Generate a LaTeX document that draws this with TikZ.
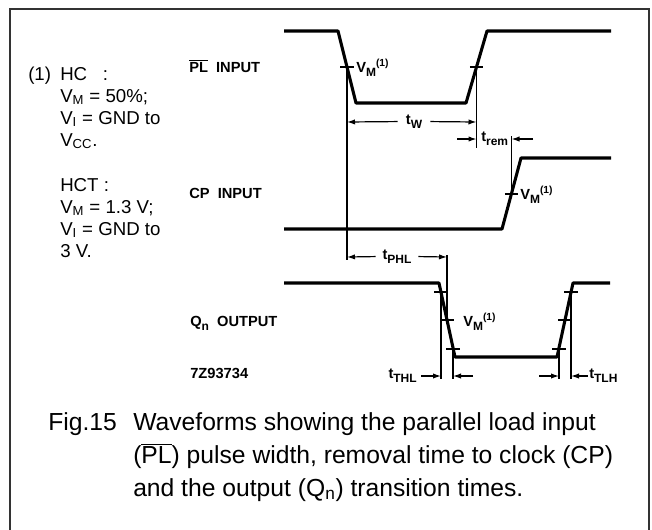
\documentclass[tikz,border=0pt]{standalone}
\usepackage{fontspec}
\setmainfont{Liberation Sans}
\usetikzlibrary{arrows.meta}
\newcommand{\lowsub}[1]{\raisebox{-0.32em}{\fontsize{9}{10}\selectfont #1}}
\begin{document}
\begin{tikzpicture}[x=0.75pt,y=-0.75pt,
  frame/.style={line width=1.5pt, draw=black!80},
  wave/.style={line width=2.3pt, line join=round},
  guide/.style={line width=0.9pt},
  tickm/.style={line width=1pt},
  dimarrow/.style={line width=0.9pt,-{Latex[length=6pt,width=4pt]}},
  lab/.style={font=\fontsize{11}{13}\selectfont\bfseries, inner sep=0pt, anchor=base west},
  note/.style={font=\fontsize{14}{16}\selectfont, inner sep=0pt, anchor=base west},
  captext/.style={font=\fontsize{18.5}{22}\selectfont, inner sep=0pt, anchor=base west},
]
\useasboundingbox (0,0) rectangle (652,529);
\path[fill=white] (0,0) rectangle (652,529);
% frame (open at bottom)
\draw[frame] (10,530) -- (10,9) -- (649,9) -- (649,530);

% ---- PL input waveform ----
\draw[wave] (284,31) -- (338,31) -- (356,103) -- (466,103) -- (487,31) -- (611,31);
\coordinate (plf) at (347,67);
\coordinate (plr) at (476.5,67);
\draw[tickm] ([xshift=-5pt]plf) -- ([xshift=5pt]plf);
\draw[tickm] ([xshift=-5pt]plr) -- ([xshift=5pt]plr);
\node[lab] (vm1) at (356,72) {V\lowsub{M}\textsuperscript{(1)}};

% ---- CP input waveform ----
\draw[wave] (284,229) -- (502,229) -- (521,158) -- (611,158);
\coordinate (cpm) at (511.5,194);
\draw[tickm] ([xshift=-5pt]cpm) -- ([xshift=5pt]cpm);
\node[lab] (vm2) at (520,199) {V\lowsub{M}\textsuperscript{(1)}};

% ---- Qn output waveform ----
\draw[wave] (284,283) -- (439,283) -- (455,357) -- (557,357) -- (573,283) -- (610,283);
\coordinate (qf1) at (441,292);
\coordinate (qf2) at (447,320);
\coordinate (qf3) at (453,349);
\coordinate (qr1) at (559,349);
\coordinate (qr2) at (565,320);
\coordinate (qr3) at (571,292);
\foreach \c in {qf1,qf2,qf3,qr1,qr2,qr3}
  \draw[tickm] ([xshift=-5pt]\c) -- ([xshift=5pt]\c);
\node[lab] (vm3) at (463,326) {V\lowsub{M}\textsuperscript{(1)}};

% ---- guide lines ----
\coordinate (g1b) at (347,260);
\coordinate (g2b) at (476.5,148);
\coordinate (g3t) at (511.5,136);
\coordinate (g4t) at (447,255);
\coordinate (g5b) at (441,379);
\coordinate (g6b) at (453,379);
\coordinate (g7b) at (559,379);
\coordinate (g8b) at (571,379);
\draw[guide] (plf) -- (g1b);
\draw[guide] (plr) -- (g2b);
\draw[guide] (g3t) -- (cpm);
\draw[guide] (g4t) -- (qf2);
\draw[guide] (qf1) -- (g5b);
\draw[guide] (qf3) -- (g6b);
\draw[guide] (qr1) -- (g7b);
\draw[guide] (qr3) -- (g8b);

% ---- tW ----
\node[lab, anchor=base] (tw) at (414,124) {t\lowsub{W}};
\draw[dimarrow] (tw.west) ++(-6pt,0) -- (347,122);
\draw[dimarrow] (tw.east) ++(6pt,0) -- (476.5,122);

% ---- trem ----
\node[lab] (trem) at (481,141) {t\lowsub{rem}};
\coordinate (trl) at (457,139);
\coordinate (trr) at (533,139);
\draw[dimarrow] (trl) -- (476.5,139);
\draw[dimarrow] (trr) -- (511.5,139);

% ---- tPHL ----
\node[lab, anchor=base] (tphl) at (397,259) {t\lowsub{PHL}};
\draw[dimarrow] (tphl.west) ++(-5pt,0) -- (347,257);
\draw[dimarrow] (tphl.east) ++(5pt,0) -- (447,257);

% ---- tTHL ----
\node[lab, anchor=base east] (tthl) at (417,378) {t\lowsub{THL}};
\coordinate (tthla) at (421,376);
\coordinate (tthlb) at (473,376);
\draw[dimarrow] (tthla) -- (441,376);
\draw[dimarrow] (tthlb) -- (453,376);

% ---- tTLH ----
\node[lab] (ttlh) at (589,378) {t\lowsub{TLH}};
\coordinate (ttlha) at (539,376);
\coordinate (ttlhb) at (588,376);
\draw[dimarrow] (ttlha) -- (559,376);
\draw[dimarrow] (ttlhb) -- (571,376);

% ---- signal labels ----
\node[lab] (plin) at (189,72) {$\overline{\mbox{PL}}$\ \ INPUT};
\node[lab] (cpin) at (189,198) {CP\ \ INPUT};
\node[lab] (qout) at (190,326) {Q\lowsub{n}\ \ OUTPUT};
\node[lab] (code) at (190,378) {7Z93734};

% ---- note ----
\node[note] (n0) at (28,80) {(1)};
\node[note] (n1) at (60,80) {HC\ \ \ :};
\node[note] (n2) at (60,102) {V\textsubscript{M} = 50\%;};
\node[note] (n3) at (60,124) {V\textsubscript{I} = GND to};
\node[note] (n4) at (60,146) {V\textsubscript{CC}.};
\node[note] (n5) at (60,191) {HCT :};
\node[note] (n6) at (60,213) {V\textsubscript{M} = 1.3 V;};
\node[note] (n7) at (60,235) {V\textsubscript{I} = GND to};
\node[note] (n8) at (60,257) {3 V.};

% ---- caption ----
\node[captext] (c0) at (48,430) {Fig.15};
\node[captext] (c1) at (133,430) {Waveforms showing the parallel load input};
\node[captext] (c2) at (133,463) {($\overline{\mbox{PL}}$) pulse width, removal time to clock (CP)};
\node[captext] (c3) at (133,496) {and the output (Q\textsubscript{n}) transition times.};
\end{tikzpicture}
\end{document}
